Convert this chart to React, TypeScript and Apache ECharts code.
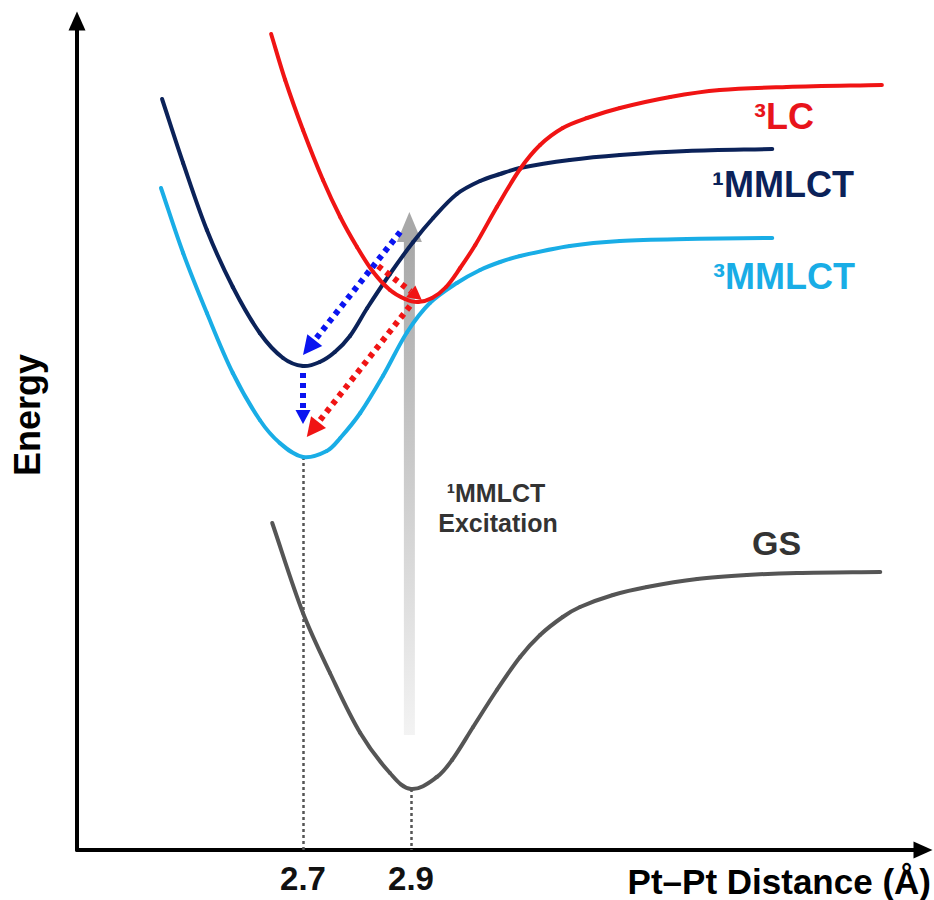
import React, { useEffect, useRef } from 'react';
import * as echarts from 'echarts';

const FONT = '"Liberation Sans", Arial, Helvetica, sans-serif';

// x: Pt–Pt distance (Å), y: energy (arbitrary units)
const tickValues = [2.7, 2.9];

const lcTriplet: [number, number][] = [
  [2.641, 8.16], [2.667, 7.7], [2.7, 7.2], [2.737, 6.7], [2.769, 6.33], [2.8, 6.03],
  [2.83, 5.78], [2.861, 5.6], [2.889, 5.51], [2.913, 5.48], [2.939, 5.52], [2.965, 5.63],
  [2.991, 5.82], [3.019, 6.05], [3.059, 6.43], [3.102, 6.81], [3.139, 7.05], [3.181, 7.22],
  [3.226, 7.32], [3.287, 7.42], [3.38, 7.53], [3.472, 7.6], [3.596, 7.63], [3.772, 7.65],
];

const mmlctSinglet: [number, number][] = [
  [2.439, 7.51], [2.478, 6.87], [2.522, 6.2], [2.57, 5.63], [2.62, 5.17], [2.663, 4.92],
  [2.7, 4.84], [2.731, 4.88], [2.759, 4.98], [2.787, 5.14], [2.819, 5.42], [2.861, 5.76],
  [2.904, 6.08], [2.941, 6.32], [2.985, 6.56], [3.028, 6.69], [3.065, 6.76], [3.102, 6.82],
  [3.194, 6.9], [3.287, 6.95], [3.411, 6.99], [3.569, 7.01],
];

const mmlctTriplet: [number, number][] = [
  [2.437, 6.62], [2.478, 5.97], [2.522, 5.37], [2.57, 4.77], [2.62, 4.3], [2.657, 4.07],
  [2.7, 3.93], [2.744, 3.99], [2.769, 4.12], [2.806, 4.37], [2.848, 4.74], [2.893, 5.18],
  [2.935, 5.47], [2.985, 5.67], [3.028, 5.8], [3.065, 5.88], [3.102, 5.94], [3.194, 6.04],
  [3.287, 6.09], [3.411, 6.11], [3.569, 6.12],
];

const groundState: [number, number][] = [
  [2.643, 3.27], [2.7, 2.37], [2.75, 1.77], [2.806, 1.17], [2.861, 0.77], [2.9, 0.61],
  [2.948, 0.73], [2.976, 0.9], [3.015, 1.23], [3.059, 1.6], [3.102, 1.93], [3.139, 2.15],
  [3.181, 2.33], [3.213, 2.43], [3.274, 2.55], [3.337, 2.63], [3.43, 2.71], [3.522, 2.75],
  [3.615, 2.77], [3.769, 2.78],
];

// dotted guide lines [[x, yTop], [x, yBottom]]
const guides: [number, number][][] = [
  [[2.7, 3.93], [2.7, 0]],
  [[2.9, 0.61], [2.9, 0]],
];

// [xFrom, yFrom, xTip, yTip]
const blueArrows: number[][] = [
  [2.88, 6.18, 2.7, 4.95],
  [2.7, 4.77, 2.7, 4.26],
];
const redArrows: number[][] = [
  [2.839, 5.84, 2.92, 5.5],
  [2.898, 5.44, 2.707, 4.13],
];

// excitation arrow [x, yBottom, yTip]
const excitation: number[][] = [[2.897, 1.15, 6.38]];

const X_MIN = 2.28148;
const X_MAX = 3.84815;
const Y_MIN = 0;
const Y_MAX = 8.29;

const C_RED = '#f01414';
const C_NAVY = '#0b2259';
const C_LBLUE = '#19ade6';
const C_GS = '#555555';

function dottedArrowSeries(name: string, data: number[][], color: string) {
  return {
    type: 'custom',
    name,
    coordinateSystem: 'cartesian2d',
    silent: true,
    clip: false,
    z: 5,
    data,
    renderItem: (params: any, api: any) => {
      const a = api.coord([api.value(0), api.value(1)]);
      const b = api.coord([api.value(2), api.value(3)]);
      const dx = b[0] - a[0];
      const dy = b[1] - a[1];
      const len = Math.hypot(dx, dy) || 1;
      const ux = dx / len;
      const uy = dy / len;
      const L = len < 60 ? 14 : 19;
      const W = len < 60 ? 15 : 19;
      const bx = b[0] - ux * L;
      const by = b[1] - uy * L;
      const nx = -uy;
      const ny = ux;
      return {
        type: 'group',
        children: [
          {
            type: 'line',
            shape: { x1: a[0], y1: a[1], x2: bx, y2: by },
            style: { stroke: color, lineWidth: 6, lineDash: [5, 5], lineCap: 'butt', fill: null },
          },
          {
            type: 'polygon',
            shape: {
              points: [
                [b[0], b[1]],
                [bx + (nx * W) / 2, by + (ny * W) / 2],
                [bx - (nx * W) / 2, by - (ny * W) / 2],
              ],
            },
            style: { fill: color },
          },
        ],
      };
    },
  };
}

// smooth curve: each data point starts a cubic segment to the next one,
// with tangents taken along the chord of the neighbouring points
function curve(name: string, data: [number, number][], color: string) {
  return {
    type: 'custom',
    name,
    coordinateSystem: 'cartesian2d',
    silent: true,
    clip: false,
    z: 3,
    data,
    renderItem: (params: any, api: any) => {
      const i = params.dataIndexInside;
      const n = params.dataInsideLength;
      if (i >= n - 1) return { type: 'group', children: [] };
      const P = (k: number) => {
        const kk = Math.max(0, Math.min(n - 1, k));
        return api.coord([api.value(0, kk), api.value(1, kk)]);
      };
      const p0 = P(i - 1);
      const p1 = P(i);
      const p2 = P(i + 1);
      const p3 = P(i + 2);
      const seg = Math.hypot(p2[0] - p1[0], p2[1] - p1[1]);
      const unit = (a: number[], b: number[]) => {
        const dx = b[0] - a[0];
        const dy = b[1] - a[1];
        const l = Math.hypot(dx, dy) || 1;
        return [dx / l, dy / l];
      };
      const t1 = unit(p0, p2);
      const t2 = unit(p1, p3);
      const k = seg / 3;
      return {
        type: 'bezierCurve',
        shape: {
          x1: p1[0],
          y1: p1[1],
          cpx1: p1[0] + t1[0] * k,
          cpy1: p1[1] + t1[1] * k,
          cpx2: p2[0] - t2[0] * k,
          cpy2: p2[1] - t2[1] * k,
          x2: p2[0],
          y2: p2[1],
        },
        style: { stroke: color, lineWidth: 4, fill: null, lineCap: 'round' },
      };
    },
  };
}

function txt(text: string, x: number, y: number, size: number, color: string, align = 'left', rotation = 0) {
  return {
    type: 'text',
    x,
    y,
    rotation,
    silent: true,
    z: 10,
    style: {
      text,
      fill: color,
      font: `bold ${size}px ${FONT}`,
      textAlign: align,
      align,
      textVerticalAlign: 'middle',
      verticalAlign: 'middle',
    },
  };
}

export default function App() {
  const ref = useRef<HTMLDivElement>(null);

  useEffect(() => {
    if (!ref.current) return;
    const chart = echarts.init(ref.current, null, { renderer: 'svg' });
    const option: any = {
      animation: false,
      backgroundColor: '#ffffff',
      grid: { left: 77, right: 11, top: 21, bottom: 50, containLabel: false, outerBoundsMode: 'none' },
      xAxis: {
        type: 'value',
        min: X_MIN,
        max: X_MAX,
        axisLine: {
          show: true,
          onZero: false,
          symbol: ['none', 'triangle'],
          symbolSize: [17, 19],
          lineStyle: { color: '#000', width: 4 },
        },
        axisTick: { show: false },
        splitLine: { show: false },
        axisLabel: {
          customValues: tickValues,
          formatter: (v: number) => v.toFixed(1),
          fontSize: 33,
          fontWeight: 'bold',
          fontFamily: FONT,
          color: '#111',
          margin: 12,
        },
      },
      yAxis: {
        type: 'value',
        min: Y_MIN,
        max: Y_MAX,
        axisLine: {
          show: true,
          onZero: false,
          symbol: ['none', 'triangle'],
          symbolSize: [17, 19],
          lineStyle: { color: '#000', width: 4 },
        },
        axisTick: { show: false },
        splitLine: { show: false },
        axisLabel: { show: false },
      },
      series: [
        {
          type: 'custom',
          name: 'excitation',
          coordinateSystem: 'cartesian2d',
          silent: true,
          clip: false,
          z: 1,
          data: excitation,
          renderItem: (params: any, api: any) => {
            const bottom = api.coord([api.value(0), api.value(1)]);
            const tip = api.coord([api.value(0), api.value(2)]);
            const headL = 30;
            const headW = 25;
            const shaftW = 11;
            return {
              type: 'group',
              children: [
                {
                  type: 'rect',
                  shape: {
                    x: bottom[0] - shaftW / 2,
                    y: tip[1] + headL,
                    width: shaftW,
                    height: bottom[1] - tip[1] - headL,
                  },
                  style: {
                    fill: new echarts.graphic.LinearGradient(0, 0, 0, 1, [
                      { offset: 0, color: '#a8a8a8' },
                      { offset: 1, color: '#f3f3f3' },
                    ]),
                  },
                },
                {
                  type: 'polygon',
                  shape: {
                    points: [
                      [tip[0], tip[1]],
                      [tip[0] - headW / 2, tip[1] + headL],
                      [tip[0] + headW / 2, tip[1] + headL],
                    ],
                  },
                  style: { fill: '#a8a8a8' },
                },
              ],
            };
          },
        },
        {
          type: 'lines',
          name: 'guides',
          coordinateSystem: 'cartesian2d',
          silent: true,
          z: 2,
          data: guides.map((g) => ({ coords: g })),
          lineStyle: { color: '#555', width: 2.5, type: [3, 3], opacity: 1, curveness: 0 },
        },
        curve('3MMLCT', mmlctTriplet, C_LBLUE),
        curve('1MMLCT', mmlctSinglet, C_NAVY),
        curve('3LC', lcTriplet, C_RED),
        curve('GS', groundState, C_GS),
        dottedArrowSeries('blueArrows', blueArrows, '#0a14f0'),
        dottedArrowSeries('redArrows', redArrows, '#f01414'),
      ],
      graphic: [
        txt('³LC', 754, 116, 36, '#e8141b'),
        txt('¹MMLCT', 712, 184, 36, C_NAVY),
        txt('³MMLCT', 713, 276, 36, C_LBLUE),
        txt('GS', 752, 543, 34, '#333333'),
        txt('¹MMLCT', 496, 493, 25, '#333333', 'center'),
        txt('Excitation', 498, 523, 25, '#333333', 'center'),
        txt('Energy', 27, 415, 36, '#000000', 'center', Math.PI / 2),
        txt('Pt–Pt Distance (Å)', 931, 881, 35, '#000000', 'right'),
      ],
    };
    chart.setOption(option);
    return () => {
      chart.dispose();
    };
  }, []);

  return (
    <div
      ref={ref}
      style={{ position: 'absolute', left: 0, top: 0, width: 934, height: 900, background: '#fff' }}
    />
  );
}
